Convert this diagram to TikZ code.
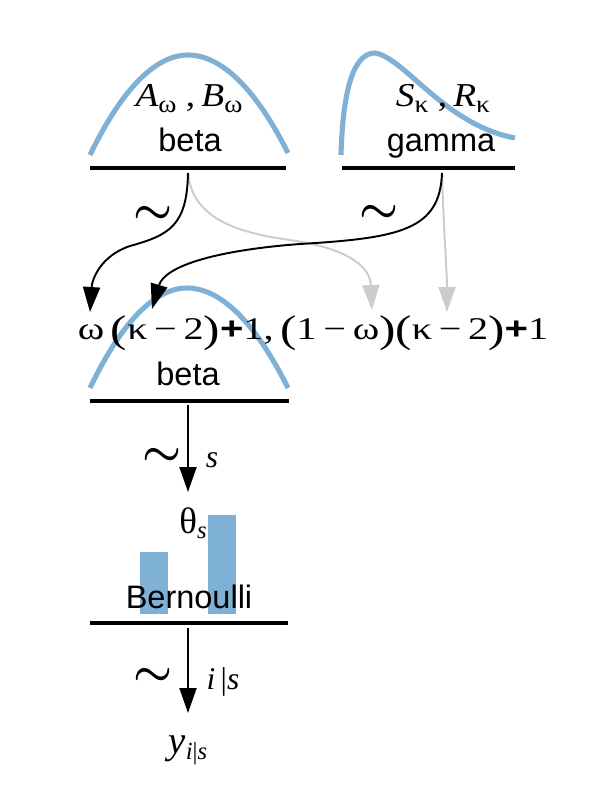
\documentclass[tikz,border=0pt]{standalone}
\usepackage{fontspec}
\usepackage{graphicx}
\setmainfont{Liberation Sans}
\newfontfamily\tms{Liberation Serif}
\usetikzlibrary{arrows.meta,positioning}
\definecolor{distblue}{RGB}{127,176,214}
\definecolor{lightgr}{RGB}{204,204,204}
\newcommand{\lowsub}[1]{\raisebox{-0.35ex}{\fontsize{14}{14}\selectfont #1}}
\newcommand{\lp}{\raisebox{-0.12em}{\fontsize{22}{22}\selectfont(}}
\newcommand{\rp}{\raisebox{-0.12em}{\fontsize{22}{22}\selectfont)}}
\newcommand{\pls}{{\normalfont\bfseries +}}
\newcommand{\wide}[2][1.12]{\scalebox{#1}[1]{#2}}

\begin{document}
\begin{tikzpicture}[x=0.02cm,y=-0.02cm,
  distcurve/.style={distblue,line width=2.9pt},
  distbase/.style={line width=1.9pt},
  tildearr/.style={line width=1.1pt,-{Triangle[length=0.5cm,width=0.34cm]}},
  grayarr/.style={tildearr,lightgr},
  distname/.style={anchor=base,font=\fontsize{18.5}{20}\selectfont},
  paramlbl/.style={anchor=base,font=\tms\fontsize{19}{20}\selectfont},
  simlbl/.style={font=\fontsize{24}{24}\selectfont\boldmath},
  idxlbl/.style={font=\tms\itshape\fontsize{18}{18}\selectfont}]
\useasboundingbox (0,0) rectangle (600,800);
% Top-left: beta prior on omega
\draw[distcurve] (90,155) parabola bend (188,55) (288,153);
\node[paramlbl] (omegaPar) at (189,107)
  {\wide{{\itshape A}\lowsub{ω}\ ,\,{\itshape B}\lowsub{ω}}};
\node[distname] (omegaDist) at (190,152) {beta};
% Top-right: gamma prior on kappa
\draw[distcurve] (341,155) .. controls (343,85) and (355,53) .. (375,53)
  .. controls (405,58) and (445,125) .. (515,138);
\node[paramlbl] (kappaPar) at (443,107)
  {\wide{{\itshape S}\lowsub{κ}\ ,\,{\itshape R}\lowsub{κ}}};
\node[distname] (kappaDist) at (441,152) {gamma};
% Middle: beta on theta
\draw[distcurve] (90,388) parabola bend (187,288) (288,388);
\node[distname] (thetaDist) at (188,385) {beta};
% Bottom: Bernoulli bars
\foreach \xl/\yt in {140/552,208/515}
  \fill[distblue] (\xl,\yt) rectangle (\xl+28,614);
\node[distname] (yDist) at (189,608) {Bernoulli};
% Base lines
\foreach \xa/\xb/\yy in {90/286/168, 342/515/168, 90/289/401, 90/288/623}
  \draw[distbase] (\xa,\yy) -- (\xb,\yy);
% Arrow ends
\coordinate (omegaSrc) at (188,173);
\coordinate (kappaSrc) at (442,173);
\coordinate (tipOmegaA) at (90,312);
\coordinate (tipKappaA) at (152,309);
\coordinate (tipOmegaB) at (372,310);
\coordinate (tipKappaB) at (447,312);
\coordinate (thetaSrc) at (188,405);
\coordinate (thetaTip) at (188,492);
\coordinate (ySrc) at (188,628);
\coordinate (yTip) at (188,713);
% Shape parameters of the middle beta
\node[anchor=base,font=\tms\fontsize{18}{18}\selectfont] (shapes) at (313,339)
  {\wide[1.27]{ω\,\lp κ\,−\,2\rp\pls 1,\,\lp 1\,−\,ω\rp\lp κ\,−\,2\rp\pls 1}};
% Gray connectors
\draw[grayarr] (omegaSrc) .. controls (192,215) and (230,232) .. (290,240)
  .. controls (345,248) and (370,265) .. (tipOmegaB);
\draw[grayarr] (kappaSrc) .. controls (444,240) and (447,270) .. (tipKappaB);
% Black connectors
\draw[tildearr] (omegaSrc) .. controls (187,225) and (170,235) .. (130,246)
  .. controls (100,256) and (92,280) .. (tipOmegaA);
\draw[tildearr] (kappaSrc) .. controls (440,230) and (400,238) .. (300,244)
  .. controls (220,250) and (165,265) .. (tipKappaA);
\node[simlbl] (simOmega) at (153,215) {$\sim$};
\node[simlbl] (simKappa) at (379,214) {$\sim$};
% theta_s
\draw[tildearr] (thetaSrc) -- (thetaTip);
\node[simlbl] (simTheta) at (162,457) {$\sim$};
\node[idxlbl] (idxS) at (212,460) {s};
\node[anchor=base,font=\tms\fontsize{21}{21}\selectfont] (theta) at (193,533)
  {θ\lowsub{\itshape s}};
% y_i|s
\draw[tildearr] (ySrc) -- (yTip);
\node[simlbl] (simY) at (153,677) {$\sim$};
\node[idxlbl] (idxIS) at (223,682) {i{\upshape\,|}s};
\node[anchor=base,font=\tms\itshape\fontsize{22}{22}\selectfont] (yObs) at (188,753)
  {y\lowsub{i{\upshape|}s}};
\end{tikzpicture}
\end{document}
